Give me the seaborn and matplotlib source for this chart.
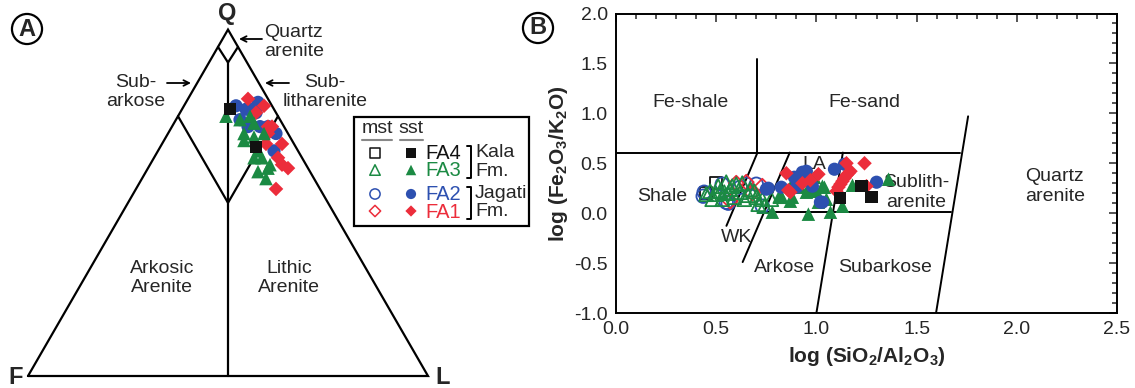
import numpy as np
import pandas as pd
import seaborn as sns
import matplotlib.pyplot as plt
from matplotlib.patches import Rectangle
from matplotlib.ticker import MultipleLocator

sns.set_style("white")
plt.rcParams['font.family'] = ['Liberation Sans', 'DejaVu Sans']
plt.rcParams['mathtext.fontset'] = 'custom'
plt.rcParams['mathtext.rm'] = 'Liberation Sans'
plt.rcParams['mathtext.bf'] = 'Liberation Sans:bold'

# facies colours / markers
facies = ["FA4", "FA3", "FA2", "FA1"]
colors = {"FA4": "#111111", "FA3": "#1b8a43", "FA2": "#2d50b0", "FA1": "#ec2d3b"}
markers = {"FA4": "s", "FA3": "^", "FA2": "o", "FA1": "D"}
sizes = {"FA4": 75, "FA3": 95, "FA2": 90, "FA1": 55}

# ---- panel A: QFL point counts (% Q and % L, F is the rest) ----
qfl_q = {
    "FA4": [77, 66],
    "FA3": [75, 74, 75, 73, 70, 68, 69, 70, 65, 63, 63, 61, 59, 60, 57],
    "FA2": [78, 77, 77, 79, 74, 76, 72, 72, 70, 65, 72],
    "FA1": [80, 78, 76, 72, 70, 67, 67, 63, 61, 60, 54, 72],
}
qfl_l = {
    "FA4": [12, 24],
    "FA3": [12, 16, 18, 20, 19, 20, 22, 24, 25, 25, 27, 30, 28, 30, 31],
    "FA2": [13, 16, 17, 18, 16, 19, 22, 24, 27, 29, 19],
    "FA1": [15, 20, 19, 24, 25, 30, 26, 31, 33, 35, 35, 25],
}

# ---- panel B: Herron (1988) geochemistry ----
mst_x = {
    "FA4": [0.50, 0.45],
    "FA3": [0.45, 0.48, 0.50, 0.53, 0.55, 0.57, 0.59, 0.60, 0.62, 0.64, 0.67, 0.70,
            0.73, 0.74, 0.775, 0.51, 0.52, 0.56, 0.63, 0.82, 0.54, 0.58, 0.66, 0.69, 0.47, 0.71],
    "FA2": [0.435, 0.44, 0.55, 0.56, 0.65, 0.70, 0.73, 0.53, 0.62],
    "FA1": [0.65, 0.73, 0.57, 0.60, 0.68],
}
mst_y = {
    "FA4": [0.30, 0.20],
    "FA3": [0.19, 0.14, 0.19, 0.14, 0.31, 0.24, 0.16, 0.29, 0.21, 0.14, 0.24, 0.16,
            0.14, 0.07, 0.14, 0.27, 0.22, 0.20, 0.30, 0.17, 0.21, 0.27, 0.18, 0.22, 0.22, 0.09],
    "FA2": [0.17, 0.21, 0.11, 0.10, 0.29, 0.29, 0.07, 0.29, 0.26],
    "FA1": [0.31, 0.27, 0.12, 0.30, 0.20],
}
sst_x = {
    "FA4": [1.12, 1.225, 1.275],
    "FA3": [0.78, 0.88, 0.89, 0.92, 0.93, 0.95, 0.96, 0.98, 0.99, 1.00, 1.01, 1.03,
            1.04, 1.05, 1.07, 1.13, 1.18, 1.36, 0.87, 0.82],
    "FA2": [0.75, 0.76, 0.825, 0.89, 0.90, 0.93, 0.95, 0.98, 1.02, 1.03, 1.09, 1.14, 1.30],
    "FA1": [0.85, 0.87, 0.86, 1.01, 1.10, 1.11, 1.12, 1.13, 1.14, 1.15, 1.16, 1.17,
            1.15, 1.24, 1.25, 0.93, 0.97],
}
sst_y = {
    "FA4": [0.15, 0.27, 0.16],
    "FA3": [0.01, 0.16, 0.34, 0.26, 0.37, 0.21, -0.01, 0.22, 0.36, 0.22, 0.11, 0.27,
            0.26, 0.14, 0.01, 0.07, 0.28, 0.34, 0.12, 0.17],
    "FA2": [0.24, 0.25, 0.26, 0.36, 0.26, 0.41, 0.42, 0.27, 0.11, 0.11, 0.44, 0.49, 0.31],
    "FA1": [0.40, 0.21, 0.23, 0.39, 0.22, 0.26, 0.29, 0.32, 0.35, 0.38, 0.40, 0.42,
            0.50, 0.50, 0.27, 0.30, 0.33],
}

# Herron field boundaries (x1, y1, x2, y2)
herron_lines = [
    (0.0, 0.607, 1.719, 0.607),
    (0.706, 0.607, 0.706, 1.54),
    (0.74, 0.013, 1.674, 0.013),
    (0.706, 0.607, 0.551, -0.127),
    (0.867, 0.607, 0.632, -0.49),
    (1.132, 0.607, 1.0, -1.0),
    (1.757, 0.97, 1.597, -1.0),
]
herron_labels = [
    ("Fe-shale", 0.37, 1.11), ("Fe-sand", 1.24, 1.11), ("Shale", 0.23, 0.17),
    ("LA", 0.99, 0.49), ("Sublith-\narenite", 1.50, 0.21), ("Quartz\narenite", 2.19, 0.27),
    ("WK", 0.60, -0.24), ("Arkose", 0.84, -0.54), ("Subarkose", 1.345, -0.54),
]

W, H = 1135, 388
fig = plt.figure(figsize=(W / 100, H / 100), dpi=100)
FS = 14


def tern(q, l):
    q = np.asarray(q) / 100.0
    l = np.asarray(l) / 100.0
    return l + q / 2, q * np.sqrt(3) / 2


def px(x, y):
    # layout helper: pixel position -> panel A coords
    return (x - 28) / 400, (376 - y) / 400


# ================= panel A =================
ax_a = fig.add_axes([0, 0, 590 / W, 1])
ax_a.set_xlim(px(0, 0)[0], px(590, 0)[0])
ax_a.set_ylim(px(0, 388)[1], px(0, 0)[1])
ax_a.axis("off")

lw = 1.6
h = np.sqrt(3) / 2
ax_a.plot([0, 1, 0.5, 0], [0, 0, h, 0], color="k", lw=lw, solid_joinstyle="miter")
# quartz arenite and subarkose / sublitharenite fields
for qs, qc in [(95, 90.5), (75, 50)]:
    lx, ly = tern([qs], [0])
    rx, ry = tern([qs], [100 - qs])
    cx, cy = tern([qc], [(100 - qc) / 2])
    ax_a.plot([lx[0], cx[0], rx[0]], [ly[0], cy[0], ry[0]], color="k", lw=lw)
cx, cy = tern([90.5], [4.75])
ax_a.plot([0.5, 0.5], [0, cy[0]], color="k", lw=lw)

rows = []
for fa in facies:
    for q, l in zip(qfl_q[fa], qfl_l[fa]):
        x, y = tern(q, l)
        rows.append({"facies": fa, "Q": q, "L": l, "F": 100 - q - l, "x": float(x), "y": float(y)})
df_a = pd.DataFrame(rows)
for fa in ["FA2", "FA1", "FA3", "FA4"]:
    d = df_a[df_a.facies == fa]
    sns.scatterplot(data=d, x="x", y="y", ax=ax_a, marker=markers[fa], color=colors[fa],
                    s=sizes[fa], edgecolor="none", legend=False, zorder=3)
ax_a.set_xlabel("")
ax_a.set_ylabel("")

ax_a.text(*px(227, 14), "Q", fontsize=17, fontweight="bold", ha="center", va="center")
ax_a.text(*px(16, 377), "F", fontsize=17, fontweight="bold", ha="center", va="center")
ax_a.text(*px(443, 378), "L", fontsize=17, fontweight="bold", ha="center", va="center")
ax_a.text(*px(264, 42), "Quartz\narenite", fontsize=FS, ha="left", va="center")
ax_a.text(*px(136, 92), "Sub-\narkose", fontsize=FS, ha="center", va="center")
ax_a.text(*px(325, 92), "Sub-\nlitharenite", fontsize=FS, ha="center", va="center")
ax_a.text(*px(162, 278), "Arkosic\nArenite", fontsize=FS, ha="center", va="center")
ax_a.text(*px(289, 278), "Lithic\nArenite", fontsize=FS, ha="center", va="center")
arrow = dict(arrowstyle="->", lw=1.3, color="k", mutation_scale=10, shrinkA=0, shrinkB=0)
ax_a.annotate("", xy=px(239, 39), xytext=px(262, 39), arrowprops=arrow)
ax_a.annotate("", xy=px(191, 83), xytext=px(167, 83), arrowprops=arrow)
ax_a.annotate("", xy=px(265, 83), xytext=px(289, 83), arrowprops=arrow)

# legend box
x0, y0 = px(354, 226)
x1, y1 = px(529, 117)
ax_a.add_patch(Rectangle((x0, y0), x1 - x0, y1 - y0, fill=False, lw=1.6, ec="k"))
ax_a.text(*px(377, 129), "mst", fontsize=FS, ha="center", va="center")
ax_a.text(*px(411, 129), "sst", fontsize=FS, ha="center", va="center")
ax_a.plot(*zip(px(362, 140), px(392, 140)), color="#888888", lw=1.5)
ax_a.plot(*zip(px(400, 140), px(423, 140)), color="#888888", lw=1.5)
row_y = {"FA4": 153, "FA3": 170, "FA2": 194, "FA1": 211}
for fa in facies:
    ax_a.scatter(*px(375, row_y[fa]), marker=markers[fa], s=sizes[fa] * 0.6,
                 facecolor="none", edgecolor=colors[fa], lw=1.1)
    ax_a.scatter(*px(411, row_y[fa]), marker=markers[fa], s=sizes[fa] * 0.6,
                 color=colors[fa], edgecolor="none")
    ax_a.text(*px(425, row_y[fa] + 1), fa, color=colors[fa], fontsize=FS + 0.5,
              ha="left", va="center")
for (ya, yb), name in [((146, 178), "Kala"), ((187, 219), "Jagati")]:
    ax_a.plot(*zip(px(467, ya), px(471, ya), px(471, yb), px(467, yb)), color="k", lw=1.4)
    ax_a.text(*px(475, ya + 7), name, fontsize=FS, ha="left", va="center")
    ax_a.text(*px(475, yb - 7), "Fm.", fontsize=FS, ha="left", va="center")

# ================= panel B =================
ax_b = fig.add_axes([616 / W, (H - 313) / H, 501 / W, 299.5 / H])
for x1_, y1_, x2_, y2_ in herron_lines:
    ax_b.plot([x1_, x2_], [y1_, y2_], color="k", lw=1.4)
for txt, tx, ty in herron_labels:
    ax_b.text(tx, ty, txt, fontsize=FS, ha="center", va="center")

for kind, xs, ys in [("mst", mst_x, mst_y), ("sst", sst_x, sst_y)]:
    order = ["FA4", "FA2", "FA1", "FA3"] if kind == "mst" else ["FA3", "FA2", "FA1", "FA4"]
    for fa in order:
        d = pd.DataFrame({"x": xs[fa], "y": ys[fa]})
        if kind == "mst":
            sns.scatterplot(data=d, x="x", y="y", ax=ax_b, marker=markers[fa],
                            color=colors[fa], facecolor="none", edgecolor=colors[fa],
                            linewidth=1.3, s=sizes[fa] * 1.05, legend=False, zorder=3)
        else:
            sns.scatterplot(data=d, x="x", y="y", ax=ax_b, marker=markers[fa],
                            color=colors[fa], edgecolor="none", s=sizes[fa],
                            legend=False, zorder=4)

ax_b.set_xlim(0, 2.5)
ax_b.set_ylim(-1, 2)
ax_b.xaxis.set_major_locator(MultipleLocator(0.5))
ax_b.xaxis.set_minor_locator(MultipleLocator(0.1))
ax_b.yaxis.set_major_locator(MultipleLocator(0.5))
ax_b.yaxis.set_minor_locator(MultipleLocator(0.1))
ax_b.xaxis.set_major_formatter(plt.FormatStrFormatter("%.1f"))
ax_b.yaxis.set_major_formatter(plt.FormatStrFormatter("%.1f"))
ax_b.tick_params(which="both", direction="in", top=True, right=True, width=1.1,
                 labelsize=FS, pad=6)
ax_b.tick_params(which="major", length=6)
ax_b.tick_params(which="minor", length=3.5)
for sp in ax_b.spines.values():
    sp.set_linewidth(1.4)
    sp.set_color("k")
ax_b.set_xlabel(r"log (SiO$_\mathbf{2}$/Al$_\mathbf{2}$O$_\mathbf{3}$)", fontsize=FS + 1,
                fontweight="bold", labelpad=5)
ax_b.set_ylabel(r"log (Fe$_\mathbf{2}$O$_\mathbf{3}$/K$_\mathbf{2}$O)", fontsize=FS + 1,
                fontweight="bold", labelpad=3)

# panel letters
for letter, (cxp, cyp) in [("A", (27, 29)), ("B", (538, 28))]:
    fig.text(cxp / W, 1 - cyp / H, letter, fontsize=17, fontweight="bold", ha="center",
             va="center", bbox=dict(boxstyle="circle,pad=0.15", fc="white", ec="k", lw=1.6))

fig.savefig("out.png", dpi=100)
